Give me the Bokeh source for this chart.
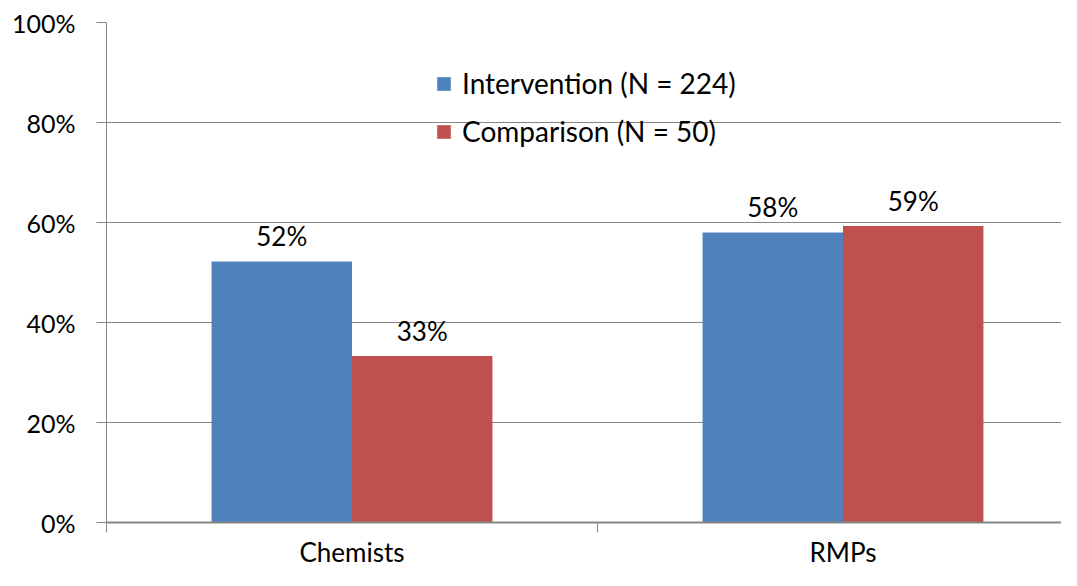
from bokeh.plotting import figure
from bokeh.models import FixedTicker, PrintfTickFormatter, Legend, LegendItem, ColumnDataSource
from bokeh.core.properties import value
from bokeh.embed import file_html
from bokeh.resources import INLINE

categories = ["Chemists", "RMPs"]
intervention = [52.2, 58.0]
comparison = [33.3, 59.3]
series_names = ["Intervention (N = 224)", "Comparison (N = 50)"]
colors = ["#4F81BD", "#C0504D"]
y_ticks = [0, 20, 40, 60, 80, 100]

FONT = "Lato"
GRAY = "#868686"
bw = 0.286
label_gap = 5.1   # data units above bar top

centers = [i + 0.5 for i in range(len(categories))]
p = figure(width=1061, height=570, x_range=(0, 1.945), y_range=(0, 100),
           output_backend="svg", toolbar_location=None,
           min_border_left=106, min_border_right=0, min_border_top=22, min_border_bottom=48)
p.outline_line_color = None
p.background_fill_color = "white"

src_i = ColumnDataSource(dict(x=[c - bw / 2 for c in centers], top=intervention,
                              ly=[v + label_gap for v in intervention],
                              lab=[f"{round(v)}%" for v in intervention]))
src_c = ColumnDataSource(dict(x=[c + bw / 2 for c in centers], top=comparison,
                              ly=[v + label_gap for v in comparison],
                              lab=[f"{round(v)}%" for v in comparison]))

r1 = p.vbar(x="x", top="top", width=bw, source=src_i, fill_color=colors[0], line_color=None)
r2 = p.vbar(x="x", top="top", width=bw, source=src_c, fill_color=colors[1], line_color=None)

for src in (src_i, src_c):
    p.text(x="x", y="ly", text="lab", source=src,
           text_align="center", text_baseline="alphabetic",
           text_font=value(FONT), text_font_size="26px", text_color="black")

legend = Legend(items=[LegendItem(label=series_names[0], renderers=[r1]),
                       LegendItem(label=series_names[1], renderers=[r2])],
                location=(329, 374), orientation="vertical",
                glyph_width=17, glyph_height=17, label_height=32, spacing=14,
                label_standoff=10, padding=0, margin=0,
                border_line_color=None, background_fill_alpha=0,
                label_text_font=FONT, label_text_font_size="28px", label_text_color="black")
p.add_layout(legend)

# y axis
p.yaxis.ticker = FixedTicker(ticks=y_ticks)
p.yaxis.formatter = PrintfTickFormatter(format="%d%%")
p.yaxis.axis_line_color = GRAY
p.yaxis.axis_line_width = 1
p.yaxis.major_tick_line_color = GRAY
p.yaxis.major_tick_out = 10
p.yaxis.major_tick_in = 0
p.yaxis.minor_tick_line_color = None
p.yaxis.major_label_text_font = FONT
p.yaxis.major_label_text_font_size = "25px"
p.yaxis.major_label_text_color = "black"
p.yaxis.major_label_standoff = 21

# x axis
p.xaxis.ticker = FixedTicker(ticks=centers, minor_ticks=[0, 1, 2])
p.xaxis.major_label_overrides = {c: n for c, n in zip(centers, categories)}
p.xaxis.major_label_text_font = FONT
p.xaxis.major_label_text_font_size = "26px"
p.xaxis.major_label_text_color = "black"
p.xaxis.major_label_standoff = 3
p.xaxis.axis_line_color = GRAY
p.xaxis.axis_line_width = 2
p.xaxis.major_tick_line_color = None
p.xaxis.major_tick_out = 0
p.xaxis.major_tick_in = 0
p.xaxis.minor_tick_line_color = GRAY
p.xaxis.minor_tick_out = 10
p.xaxis.minor_tick_in = 0

p.xgrid.grid_line_color = None
p.ygrid.grid_line_color = GRAY
p.ygrid.grid_line_width = 1

open("out.html", "w").write(file_html(p, INLINE))
